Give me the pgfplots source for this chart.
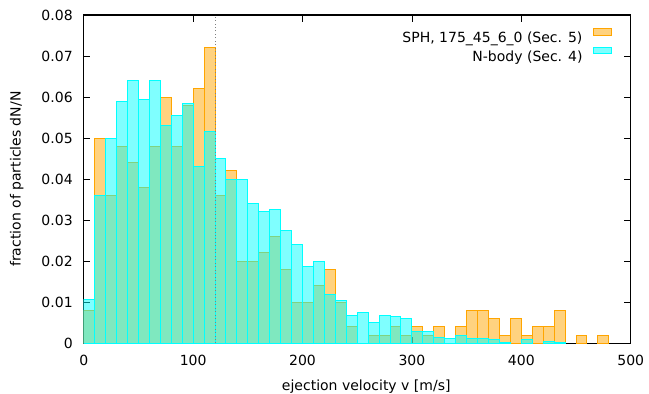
\documentclass[border=0pt]{standalone}
\usepackage{pgfplots}
\pgfplotsset{compat=1.18}
\usepackage{fontspec}
\setmainfont{DejaVu Sans}
\definecolor{gpOrange}{RGB}{255,165,0}
\definecolor{gpCyan}{RGB}{0,255,255}
\newcommand{\gpfont}{\fontsize{10.5pt}{12.6pt}\selectfont}
\begin{document}
\gpfont
\begin{tikzpicture}
\begin{axis}[
  name=ax,
  scale only axis,
  width=410.25pt, height=246.2pt,
  xmin=0, xmax=500, ymin=0, ymax=0.08,
  scaled ticks=false,
  scaled y ticks=false,
  xtick={0,100,200,300,400,500},
  ytick={0,0.01,0.02,0.03,0.04,0.05,0.06,0.07,0.08},
  yticklabels={0,0.01,0.02,0.03,0.04,0.05,0.06,0.07,0.08},
  /pgf/number format/assume math mode=true,
  tick align=inside,
  major tick length=5pt,
  every tick/.style={black, line width=0.6pt},
  axis line style={black, line width=0.8pt},
  tick label style={font=\gpfont},
  xticklabel style={yshift=-5.3pt},
  yticklabel style={xshift=-4.6pt},
  every axis x label/.style={at={(axis description cs:0.5165,0)}, anchor=base, yshift=-35.5pt, font=\gpfont},
  every axis y label/.style={at={(axis description cs:-0.1152,0.5)}, rotate=90, anchor=base, font=\gpfont},
  xlabel={ejection velocity v [m/s]},
  ylabel={fraction of particles dN/N},
  legend style={at={(1,1)}, anchor=north east, xshift=-13.5pt, yshift=-9.5pt,
    draw=none, fill=none, inner sep=0pt, column sep=7.25pt, row sep=0pt,
    nodes={inner sep=1pt, text height=7.5pt, text depth=2pt, font=\gpfont}},
  legend plot pos=right,
  legend cell align=right,
  legend image code/.code={\draw[#1] (0pt,3pt) rectangle (13.5pt,8pt);},
]
\addplot[ybar, bar width=10, bar shift=0pt, draw=gpOrange, line width=0.75pt,
  fill=gpOrange, fill opacity=0.5] coordinates {
(5,0.008) (15,0.050) (25,0.036) (35,0.048) (45,0.044) (55,0.038) (65,0.048)
(75,0.060) (85,0.048) (95,0.058) (105,0.062) (115,0.072) (125,0.036) (135,0.042)
(145,0.020) (155,0.020) (165,0.022) (175,0.026) (185,0.018) (195,0.010) (205,0.010)
(215,0.014) (225,0.018) (235,0.010) (245,0.004) (265,0.002) (275,0.002) (285,0.004)
(295,0.002) (305,0.004) (315,0.002) (325,0.004) (345,0.004) (355,0.008) (365,0.008)
(375,0.006) (385,0.002) (395,0.006) (405,0.002) (415,0.004) (425,0.004) (435,0.008)
(455,0.002) (475,0.002)
};
\addlegendentry{SPH, 175\_45\_6\_0 (Sec. 5)}
\addplot[ybar, bar width=10, bar shift=0pt, draw=gpCyan, line width=0.75pt,
  fill=gpCyan, fill opacity=0.5] coordinates {
(5,0.0107) (15,0.036) (25,0.050) (35,0.059) (45,0.064) (55,0.0595) (65,0.064)
(75,0.053) (85,0.0555) (95,0.0585) (105,0.043) (115,0.0515) (125,0.045) (135,0.040)
(145,0.040) (155,0.034) (165,0.032) (175,0.0325) (185,0.0275) (195,0.024) (205,0.0187)
(215,0.020) (225,0.012) (235,0.0104) (245,0.0068) (255,0.0075) (265,0.0051) (275,0.0068)
(285,0.0065) (295,0.006) (305,0.0028) (315,0.0028) (325,0.0015) (335,0.0012) (345,0.0018)
(355,0.0012) (365,0.0012) (375,0.0008) (385,0.0003) (405,0.0008) (425,0.0005) (435,0.0003)
};
\addlegendentry{N-body (Sec. 4)}
\addplot[gray, dotted, line width=0.6pt, forget plot] coordinates {(120,0) (120,0.08)};
\end{axis}
\pgfresetboundingbox
\path[use as bounding box] ([shift={(-62.8pt,-38pt)}]ax.south west) rectangle ([shift={(13.7pt,11.25pt)}]ax.north east);
\end{tikzpicture}
\end{document}
